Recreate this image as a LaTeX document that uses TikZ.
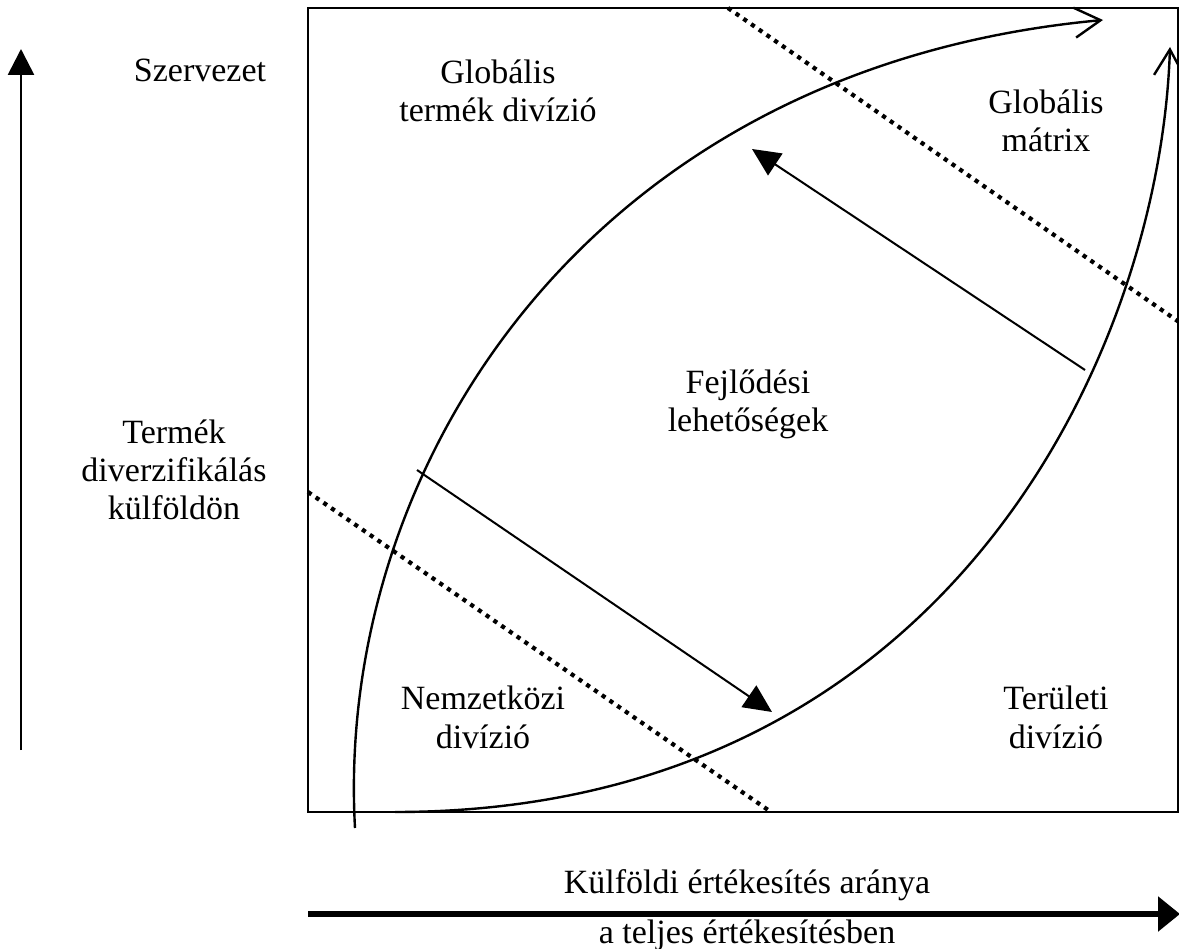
\documentclass[tikz,border=0pt]{standalone}
\usepackage{fontspec}
\setmainfont{Liberation Serif}
\usetikzlibrary{arrows.meta}
\begin{document}
\begin{tikzpicture}[x=1pt,y=-1pt,
  lbl/.style={anchor=base, align=center, inner sep=0pt, font=\fontsize{34}{38.5}\selectfont},
  frame/.style={line width=2.5pt},
  boundary/.style={line width=2.4pt, -{Straight Barb[length=26pt,width=30pt]}},
  shiftarrow/.style={line width=2pt, -{Triangle[length=28pt,width=26pt]}},
  split/.style={line width=4.2pt, dash pattern=on 4.2pt off 5.2pt},
  axisv/.style={line width=2.7pt, -{Triangle[length=26pt,width=26pt]}},
  axish/.style={line width=6pt, -{Triangle[length=22pt,width=34pt]}},
]
\useasboundingbox (0,0) rectangle (1179,949);

% outer frame
\coordinate (tl) at (308,8);
\coordinate (br) at (1178,812);
\draw[frame] (tl) rectangle (br);

% dotted dividing lines
\coordinate (d1a) at (308,492);
\coordinate (d1b) at (771,812);
\coordinate (d2a) at (728,8);
\coordinate (d2b) at (1179,322);
\draw[split] (d1a) -- (d1b);
\draw[split] (d2a) -- (d2b);

% the two curved boundaries of the development area
\coordinate (ca0) at (355,828);
\coordinate (ca1) at (1103,20);
\coordinate (cb0) at (395,812);
\coordinate (cb1) at (1170,47);
\draw[boundary] (ca0) .. controls (335,470) and (585,68) .. (ca1);
\draw[boundary] (cb0) .. controls (950,812) and (1160,350) .. (cb1);

% transition arrows
\coordinate (s1a) at (417,470);
\coordinate (s1b) at (772,712);
\coordinate (s2a) at (1085,370);
\coordinate (s2b) at (752,149);
\draw[shiftarrow] (s1a) -- (s1b);
\draw[shiftarrow] (s2a) -- (s2b);

% axes
\coordinate (vy0) at (21,750);
\coordinate (vy1) at (21,49);
\coordinate (hx0) at (308,914);
\coordinate (hx1) at (1180,914);
\draw[axisv] (vy0) -- (vy1);
\draw[axish] (hx0) -- (hx1);

% labels (anchored at the baseline of their last line)
\node[lbl] (szerv) at (200,82) {Szervezet};
\node[lbl] (gtd) at (498,122) {Globális\\termék divízió};
\node[lbl] (gm) at (1046,152) {Globális\\mátrix};
\node[lbl] (fejl) at (748,432) {Fejlődési\\lehetőségek};
\node[lbl] (tdiv) at (174,520) {Termék\\diverzifikálás\\külföldön};
\node[lbl] (nd) at (483,748) {Nemzetközi\\divízió};
\node[lbl] (td) at (1056,748) {Területi\\divízió};
\node[lbl] (kert) at (747,943) {Külföldi értékesítés aránya\\[11.5pt]a teljes értékesítésben};
\end{tikzpicture}
\end{document}
